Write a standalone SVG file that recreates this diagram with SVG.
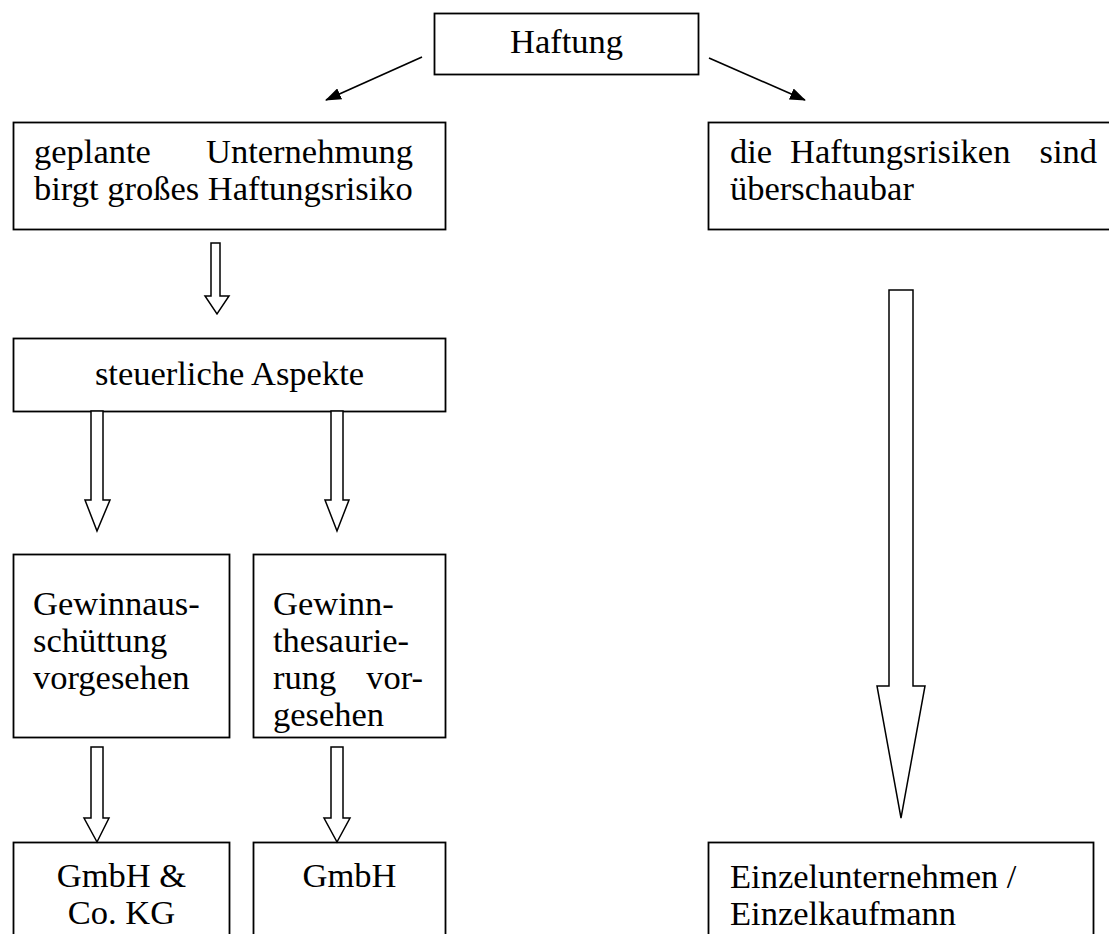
<svg xmlns="http://www.w3.org/2000/svg" width="1109" height="934" viewBox="0 0 1109 934">
<style>
.box{fill:#fff;stroke:#000;stroke-width:1.8}
.t{font-family:"Liberation Serif","Times New Roman",serif;font-size:34.5px;fill:#000}
.c{text-anchor:middle}
.e{text-anchor:end}
.ha{fill:#fff;stroke:#000;stroke-width:1.5;stroke-linejoin:miter}
.ln{stroke:#000;stroke-width:1.7;fill:none}
</style>
<defs>
<marker id="ah" markerWidth="16" markerHeight="12" refX="15" refY="6" orient="auto" markerUnits="userSpaceOnUse">
<path d="M0,0 L16,6 L0,12 Z" fill="#000"/>
</marker>
</defs>
<rect width="1109" height="934" fill="#fff"/>
<g id="n-haftung">
<rect class="box" x="434.5" y="13.5" width="264" height="61"/>
<text class="t c" x="566.5" y="53">Haftung</text>
</g>
<g id="n-gross">
<rect class="box" x="13.5" y="122.5" width="432" height="107"/>
<text class="t" x="34" y="163">geplante</text>
<text class="t e" x="413" y="163">Unternehmung</text>
<text class="t" x="34" y="200">birgt großes Haftungsrisiko</text>
</g>
<g id="n-ueberschaubar">
<rect class="box" x="708.5" y="122.5" width="420" height="107"/>
<text class="t" x="730" y="163">die</text>
<text class="t" x="790" y="163">Haftungsrisiken</text>
<text class="t e" x="1097" y="163">sind</text>
<text class="t" x="730" y="200">überschaubar</text>
</g>
<g id="n-steuer">
<rect class="box" x="13.5" y="338.5" width="432" height="73"/>
<text class="t c" x="229.5" y="385">steuerliche Aspekte</text>
</g>
<g id="n-ausschuettung">
<rect class="box" x="13.5" y="554.5" width="216" height="183"/>
<text class="t" x="33" y="615">Gewinnaus-</text>
<text class="t" x="33" y="652">schüttung</text>
<text class="t" x="33" y="689">vorgesehen</text>
</g>
<g id="n-thesaurierung">
<rect class="box" x="253.5" y="554.5" width="192" height="183"/>
<text class="t" x="273" y="615">Gewinn-</text>
<text class="t" x="273" y="652">thesaurie-</text>
<text class="t" x="273" y="689">rung</text>
<text class="t e" x="423" y="689">vor-</text>
<text class="t" x="273" y="726">gesehen</text>
</g>
<g id="n-gmbhco">
<rect class="box" x="13.5" y="842.5" width="216" height="120"/>
<text class="t c" x="121.5" y="887">GmbH &amp;</text>
<text class="t c" x="121.5" y="924">Co. KG</text>
</g>
<g id="n-gmbh">
<rect class="box" x="253.5" y="842.5" width="192" height="120"/>
<text class="t c" x="349.5" y="887">GmbH</text>
</g>
<g id="n-einzel">
<rect class="box" x="708.5" y="842.5" width="385" height="120"/>
<text class="t" x="730" y="888">Einzelunternehmen /</text>
<text class="t" x="730" y="925">Einzelkaufmann</text>
</g>
<g id="connectors">
<line class="ln" x1="422" y1="57" x2="326" y2="100" marker-end="url(#ah)"/>
<line class="ln" x1="709" y1="58" x2="805" y2="100" marker-end="url(#ah)"/>
<path class="ha" d="M211,243 L220,243 L220,296 L229,296 L217,314 L205,296 L211,296 Z"/>
<path class="ha" d="M91,411 L103,411 L103,500 L110,500 L97,531 L85,500 L91,500 Z"/>
<path class="ha" d="M331,411 L343,411 L343,500 L349,500 L337,531 L325,500 L331,500 Z"/>
<path class="ha" d="M91,747 L103,747 L103,818 L109,818 L97,842 L84,818 L91,818 Z"/>
<path class="ha" d="M331,747 L343,747 L343,818 L350,818 L337,842 L324,818 L331,818 Z"/>
<path class="ha" d="M889,290 L913,290 L913,686 L925,686 L901,818 L877,686 L889,686 Z"/>
</g>
</svg>
